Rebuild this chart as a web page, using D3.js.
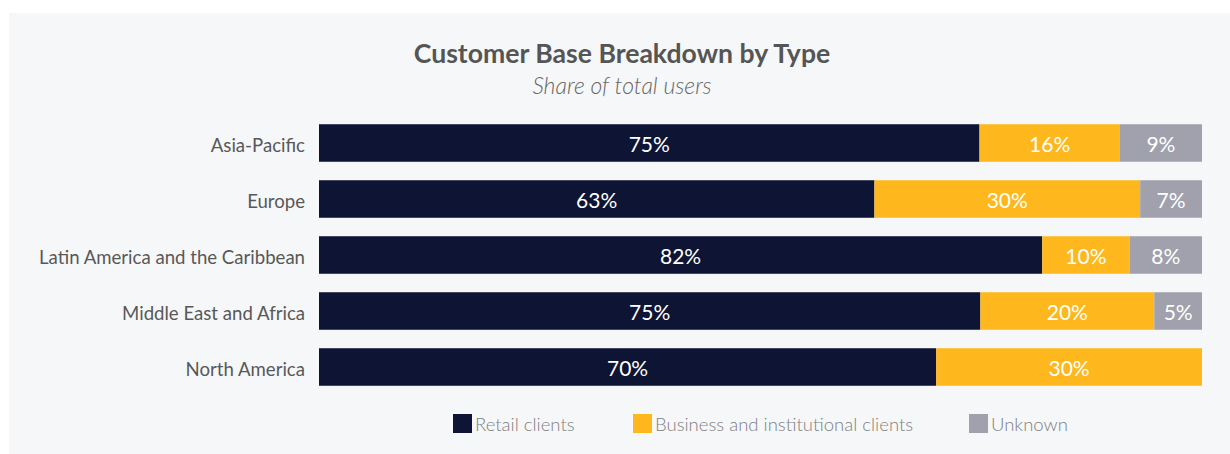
<!DOCTYPE html>
<html>
<head>
<meta charset="utf-8">
<script src="https://cdn.jsdelivr.net/npm/d3@7"></script>
<style>
  html, body { margin: 0; padding: 0; background: #ffffff; }
  svg { display: block; }
</style>
</head>
<body>
<svg id="chart" width="1230" height="454"></svg>
<script>
const categories = ["Asia-Pacific", "Europe", "Latin America and the Caribbean", "Middle East and Africa", "North America"];
const seriesNames = ["Retail clients", "Business and institutional clients", "Unknown"];
const retail   = [74.8, 62.9, 81.9, 74.9, 69.9];
const business = [15.9, 30.1, 9.9, 19.7, 30.1];
const unknown  = [9.3, 7.0, 8.2, 5.4, 0];
const labelRetail   = ["75%", "63%", "82%", "75%", "70%"];
const labelBusiness = ["16%", "30%", "10%", "20%", "30%"];
const labelUnknown  = ["9%", "7%", "8%", "5%", ""];
const colors = ["#0e1434", "#feb71c", "#a0a1ad"];

const svg = d3.select("#chart");
const W = 1230, H = 454;

svg.append("rect").attr("x", 9).attr("y", 13).attr("width", W - 9).attr("height", H - 13).attr("fill", "#f6f7f9");

svg.append("text").attr("x", 622).attr("y", 63).attr("text-anchor", "middle")
  .style("font-family", "Lato").style("font-weight", 700).style("font-size", "26.6px").attr("fill", "#555555")
  .text("Customer Base Breakdown by Type");
svg.append("text").attr("x", 622).attr("y", 94).attr("text-anchor", "middle")
  .style("font-family", "Lato").style("font-weight", 300).style("font-style", "italic").style("font-size", "23px").attr("fill", "#666666")
  .text("Share of total users");

const rows = categories.map((c, i) => ({ cat: c, vals: [retail[i], business[i], unknown[i]], labels: [labelRetail[i], labelBusiness[i], labelUnknown[i]] }));
const stack = d3.stack().keys([0, 1, 2]).value((d, k) => d.vals[k]);
const layers = stack(rows);

const x = d3.scaleLinear().domain([0, 100]).range([319, 1202]);
const y = d3.scaleBand().domain(categories).range([115, 395]).paddingInner(0.33).paddingOuter(0.165);

const g = svg.append("g");
layers.forEach((layer, k) => {
  const lg = g.append("g").attr("fill", colors[k]);
  lg.selectAll("rect").data(layer).join("rect")
    .attr("x", d => x(d[0])).attr("y", d => y(d.data.cat))
    .attr("width", d => Math.max(0, x(d[1]) - x(d[0]))).attr("height", y.bandwidth());
  g.append("g").selectAll("text").data(layer.filter(d => d[1] > d[0])).join("text")
    .attr("x", d => (x(d[0]) + x(d[1])) / 2).attr("y", d => y(d.data.cat) + y.bandwidth() / 2)
    .attr("dy", "0.43em").attr("text-anchor", "middle")
    .style("font-family", "Lato").style("font-size", "21px").attr("fill", "#ffffff")
    .text(d => d.data.labels[k]);
});

const yAxis = d3.axisLeft(y).tickSize(0).tickPadding(14);
const ax = svg.append("g").attr("transform", "translate(319,0)").call(yAxis);
ax.select(".domain").remove();
ax.selectAll("text").attr("dy", "0.48em").style("font-family", "Lato").style("font-size", "18.6px").attr("fill", "#585858");

const legendX = [453, 633, 969];
const lg = svg.append("g");
seriesNames.forEach((s, i) => {
  lg.append("rect").attr("x", legendX[i]).attr("y", 414).attr("width", 19).attr("height", 19).attr("fill", colors[i]);
  lg.append("text").attr("x", legendX[i] + 22).attr("y", 431)
    .style("font-family", "Lato").style("font-weight", 300).style("font-size", "18.5px").attr("fill", "#808080").text(s);
});
</script>
</body>
</html>
